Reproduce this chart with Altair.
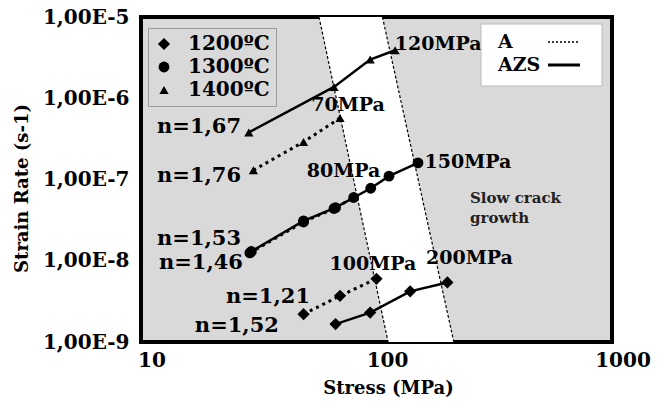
import altair as alt
import pandas as pd

FONT = "DejaVu Serif"

# Creep results: applied stress (MPa) against steady-state strain rate (1/s)
temps = ["1200ºC", "1300ºC", "1400ºC"]

a1200_stress = [49, 70, 100]
a1200_rate = [2.2e-9, 3.7e-9, 6.0e-9]
azs1200_stress = [67, 94, 139, 200]
azs1200_rate = [1.66e-9, 2.3e-9, 4.2e-9, 5.4e-9]

a1300_stress = [29, 49, 66, 80]
a1300_rate = [1.25e-8, 3.0e-8, 4.4e-8, 6.0e-8]
azs1300_stress = [29.4, 49, 67, 94.5, 113, 150]
azs1300_rate = [1.3e-8, 3.1e-8, 4.5e-8, 7.8e-8, 1.1e-7, 1.6e-7]

a1400_stress = [30, 49, 70]
a1400_rate = [1.3e-7, 2.9e-7, 5.7e-7]
azs1400_stress = [28.7, 66, 94, 120]
azs1400_rate = [3.8e-7, 1.38e-6, 3.0e-6, 3.9e-6]

# Boundaries of the transition band (stress at 1e-5 and at 1e-9 1/s)
band_rate = [1e-5, 1e-9]
band_left = [57, 112]
band_right = [106, 213]

# Stress tick labels
x_ticks = [10, 100, 1000]

# Annotations: text, stress, rate, alignment
note_text = ["120MPa", "150MPa", "70MPa", "80MPa", "100MPa", "200MPa",
             "n=1,67", "n=1,76", "n=1,53", "n=1,46", "n=1,21", "n=1,52"]
note_stress = [119.5, 160, 75.7, 72.4, 96.6, 248,
               26.6, 26.6, 26.6, 27.1, 52.2, 38.5]
note_rate = [4.6e-6, 1.62e-7, 8.3e-7, 1.29e-7, 9.06e-9, 1.07e-8,
             4.47e-7, 1.12e-7, 1.84e-8, 9.3e-9, 3.56e-9, 1.57e-9]
note_align = ["left", "left", "center", "center", "center", "center",
              "right", "right", "right", "right", "right", "right"]

crack_text = ["Slow crack", "growth"]
crack_stress = [249.5, 249.5]
crack_rate = [5.85e-8, 3.32e-8]

# ---- tables -------------------------------------------------------------
rows = []
series = [
    ("A", temps[0], a1200_stress, a1200_rate),
    ("AZS", temps[0], azs1200_stress, azs1200_rate),
    ("A", temps[1], a1300_stress, a1300_rate),
    ("AZS", temps[1], azs1300_stress, azs1300_rate),
    ("A", temps[2], a1400_stress, a1400_rate),
    ("AZS", temps[2], azs1400_stress, azs1400_rate),
]
for mat, t, st, rt in series:
    for s, r in zip(st, rt):
        rows.append({"material": mat, "temp": t, "series": mat + t,
                     "stress": s, "rate": r})
df = pd.DataFrame(rows)

band = pd.DataFrame({"rate": band_rate, "left": band_left, "right": band_right})
notes = pd.DataFrame({"text": note_text, "stress": note_stress, "rate": note_rate,
                      "align": note_align})
crack = pd.DataFrame({"text": crack_text, "stress": crack_stress, "rate": crack_rate})
ticks = pd.DataFrame({"stress": x_ticks, "text": [str(v) for v in x_ticks]})
one = pd.DataFrame({"k": [0]})

# ---- scales and axes -----------------------------------------------------
xs = alt.Scale(type="log", domain=[10, 1000])
ys = alt.Scale(type="log", domain=[1e-9, 1e-5])

x_axis = alt.Axis(
    values=x_ticks, labels=False, ticks=False, domain=False, grid=False,
    title="Stress (MPa)", titleFont=FONT, titleFontSize=18, titleFontWeight="bold",
    titleColor="black", titleX=247, titleY=46, titleAlign="center",
    titleBaseline="middle",
)
y_axis = alt.Axis(
    values=[1e-9, 1e-8, 1e-7, 1e-6, 1e-5], ticks=False, domain=False, grid=False,
    labelExpr="'1,00E' + round(log(datum.value) / LN10)",
    labelFlush=False, labelOverlap=False, labelPadding=12,
    labelFont=FONT, labelFontSize=20, labelFontWeight="bold", labelColor="black",
    title="Strain Rate (s-1)", titleFont=FONT, titleFontSize=18,
    titleFontWeight="bold", titleColor="black", titleX=-119, titleY=171,
    titleAngle=270, titleAlign="center", titleBaseline="middle",
)


def X(field):
    return alt.X(field, type="quantitative", scale=xs, axis=x_axis)


def Y(field):
    return alt.Y(field, type="quantitative", scale=ys, axis=y_axis)


# ---- layers --------------------------------------------------------------
white_band = alt.Chart(band).mark_area(orient="horizontal", color="white").encode(
    y=Y("rate"), x=X("left"), x2="right"
)
edge_left = alt.Chart(band).mark_line(color="black", strokeWidth=1.2,
                                      strokeDash=[3, 2]).encode(
    x=X("left"), y=Y("rate")
)
edge_right = alt.Chart(band).mark_line(color="black", strokeWidth=1.2,
                                       strokeDash=[3, 2]).encode(
    x=X("right"), y=Y("rate")
)

lines_a = alt.Chart(df).transform_filter(alt.datum.material == "A").mark_line(
    color="black", strokeWidth=3, strokeDash=[3, 4]
).encode(x=X("stress"), y=Y("rate"), detail="series:N")

lines_azs = alt.Chart(df).transform_filter(alt.datum.material == "AZS").mark_line(
    color="black", strokeWidth=2.5
).encode(x=X("stress"), y=Y("rate"), detail="series:N")

temp_legend = alt.Legend(
    orient="none", legendX=7, legendY=11, title=None,
    fillColor="#d9d9d9", strokeColor="#9a9a9a", padding=6,
    labelFont=FONT, labelFontSize=20, labelFontWeight="bold",
    labelColor="black", labelOffset=14, rowPadding=3,
    symbolFillColor="black", symbolStrokeColor="black",
)

points = alt.Chart(df).mark_point(filled=True, color="black", opacity=1).encode(
    x=X("stress"),
    y=Y("rate"),
    shape=alt.Shape(
        "temp:N",
        scale=alt.Scale(domain=temps, range=["diamond", "circle", "triangle-up"]),
        legend=temp_legend,
    ),
    size=alt.Size(
        "temp:N",
        scale=alt.Scale(domain=temps, range=[150, 85, 115]),
        legend=temp_legend,
    ),
)

# Stress tick labels sit just under the frame
tick_labels = alt.Chart(ticks).mark_text(
    align="center", baseline="middle", dx=11, font=FONT, fontSize=20,
    fontWeight="bold", color="black"
).encode(x=X("stress"), y=alt.value(344), text="text:N")

note_layers = []
for al, fs in [("left", 19), ("center", 19), ("right", 21)]:
    note_layers.append(
        alt.Chart(notes).transform_filter(alt.datum.align == al).mark_text(
            align=al, baseline="middle", font=FONT, fontSize=fs,
            fontWeight="bold", color="black"
        ).encode(x=X("stress"), y=Y("rate"), text="text:N")
    )

crack_label = alt.Chart(crack).mark_text(
    align="left", baseline="middle", font=FONT, fontSize=15, fontWeight="bold",
    color="#222222"
).encode(x=X("stress"), y=Y("rate"), text="text:N")

# Line-style key box (A dotted, AZS solid)
key_box = alt.Chart(one).mark_rect(fill="white", stroke="#bbbbbb", strokeWidth=1).encode(
    x=alt.value(340), x2=alt.value(461), y=alt.value(7), y2=alt.value(69)
)
key_a = alt.Chart(one).mark_text(align="left", baseline="middle", font=FONT,
                                 fontSize=19, fontWeight="bold", color="black",
                                 text="A").encode(x=alt.value(357), y=alt.value(25))
key_azs = alt.Chart(one).mark_text(align="left", baseline="middle", font=FONT,
                                   fontSize=19, fontWeight="bold", color="black",
                                   text="AZS").encode(x=alt.value(357), y=alt.value(48))
key_dot = alt.Chart(one).mark_rule(color="black", strokeWidth=1.5,
                                   strokeDash=[2, 2]).encode(
    x=alt.value(407), x2=alt.value(437), y=alt.value(25)
)
key_solid = alt.Chart(one).mark_rule(color="black", strokeWidth=3).encode(
    x=alt.value(407), x2=alt.value(439), y=alt.value(48)
)

chart = alt.layer(
    white_band, edge_left, edge_right, lines_a, lines_azs, points, tick_labels,
    *note_layers, crack_label, key_box, key_a, key_azs, key_dot, key_solid,
).properties(
    width=471, height=325,
    autosize=alt.AutoSizeParams(type="none"),
    padding={"left": 141, "top": 17, "right": 57, "bottom": 59},
    background="white",
).configure_view(
    fill="#d9d9d9", stroke="black", strokeWidth=4
)

chart.save("out.html", embed_options={"renderer": "svg", "actions": False})
